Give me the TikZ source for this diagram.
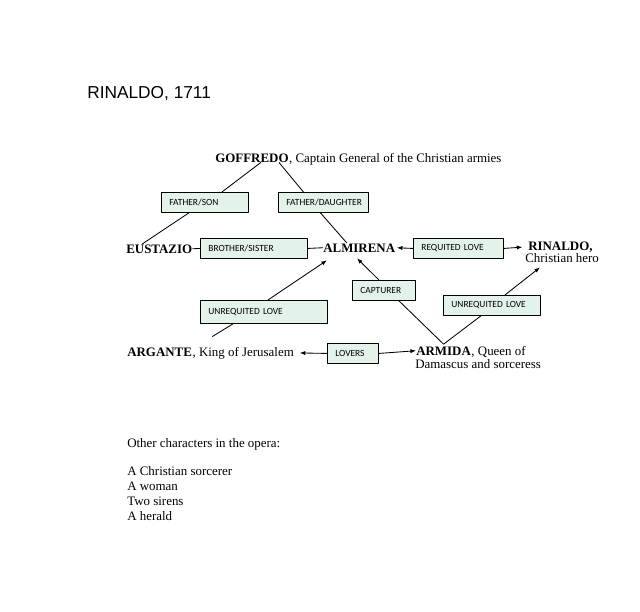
\documentclass[tikz,border=0pt]{standalone}
\usepackage{fontspec}
\setmainfont{Liberation Serif}
\newfontfamily\boxfont{Carlito}
\newfontfamily\titlefont{Liberation Sans}
\usepackage{tikz}
\usetikzlibrary{arrows.meta,calc}

\definecolor{relfill}{RGB}{228,243,233}

\tikzset{
  who/.style={inner sep=0pt,anchor=base west,font=\bfseries\fontsize{9.2}{11}\selectfont},
  what/.style={inner sep=0pt,anchor=base west,font=\fontsize{9.2}{11}\selectfont},
  relbox/.style={draw,line width=0.6pt,fill=relfill,anchor=north west,
    font=\boxfont\fontsize{6.7}{7.5}\selectfont,inner xsep=0.2cm,inner ysep=0pt,
    minimum height=0.5cm,text width=#1,align=left},
  tie/.style={line width=0.6pt},
  tiearrow/.style={line width=0.6pt,-{Latex[length=4pt,width=3pt]}}
}

\begin{document}
\begin{tikzpicture}[x=0.025cm,y=-0.025cm,line join=round]
  \useasboundingbox (0,0) rectangle (640,612);
  % title
  \node[anchor=base west,inner sep=0pt,font=\titlefont\fontsize{12.3}{14}\selectfont] (title) at (87,98) {RINALDO, 1711};
  % characters
  \node[who] (goff) at (215,162) {GOFFREDO};
  \node[what] (goffdesc) at (goff.base east) {, Captain General of the Christian armies};
  \node[who] (eust) at (126,253) {EUSTAZIO};
  \node[who] (alm) at (323,252) {ALMIRENA};
  \node[who] (rin) at (528,250) {RINALDO,};
  \node[what] (chero) at (525,262) {Christian hero};
  \node[who] (arg) at (127,356) {ARGANTE};
  \node[what] (argdesc) at (arg.base east) {, King of Jerusalem};
  \node[who] (arm) at (416,355) {ARMIDA};
  \node[what] (armdesc) at (arm.base east) {, Queen of};
  \node[what] (armdesc2) at (415,368) {Damascus and sorceress};
  \coordinate (armtop) at ($(arm.north)+(0,-2)$);
  % relations
  \node[relbox=1.775cm] (fs) at (161,192) {FATHER/SON};
  \node[relbox=1.85cm] (fd) at (278,192) {FATHER/DAUGHTER};
  \node[relbox=2.275cm] (bs) at (200,238) {BROTHER/SISTER};
  \node[relbox=1.85cm] (rl) at (413,238) {REQUITED LOVE};
  \node[relbox=2.775cm,minimum height=0.575cm] (ul) at (200,300) {UNREQUITED LOVE};
  \node[relbox=1.175cm] (cap) at (352,280) {CAPTURER};
  \node[relbox=2.025cm] (ur) at (443,295) {UNREQUITED LOVE};
  \node[relbox=0.875cm] (lov) at (327,343) {LOVERS};
  % connectors
  \draw[tie] ($(goff.south)+(9,0)$) -- ($(fs.north)+(17,0)$);
  \draw[tie] ($(fs.south)+(-16,0)$) -- ($(eust.north west)+(16,0)$);
  \draw[tie] ($(goff.south)+(27,0)$) -- ($(fd.north)+(-20,0)$);
  \draw[tie] ($(fd.south)+(-3,0)$) -- ($(alm.north west)+(24,0)$);
  \draw[tie] (eust.east) -- (bs.west);
  \draw[tie] (bs.east) -- (alm.west);
  \draw[tiearrow,shorten >=1pt] (rl.west) -- (alm.east);
  \draw[tiearrow,shorten >=4pt] (rl.east) -- (rin.west);
  \draw[tie] ($(ul.south)+(-31,0)$) -- ($(argdesc.north west)+(20,-10)$);
  \draw[tiearrow] ($(ul.north)+(4,0)$) -- ($(alm.south west)+(4,8)$);
  \draw[tiearrow,shorten >=4pt] (lov.west) -- (argdesc.east);
  \draw[tiearrow] (lov.east) -- (arm.west);
  \draw[tie] ($(cap.south)+(15,0)$) -- (armtop);
  \draw[tiearrow] ($(cap.north)+(-5,0)$) -- ($(alm.south west)+(34,6)$);
  \draw[tie] (armtop) -- ($(ur.south)+(-11,0)$);
  \draw[tiearrow] ($(ur.north)+(13,0)$) -- ($(chero.south west)+(15,5)$);
  % other characters
  \node[what] (others) at (127,447) {Other characters in the opera:};
  \node[what] (sorc) at (127,475) {A Christian sorcerer};
  \node[what] (woman) at (127,490) {A woman};
  \node[what] (sirens) at (127,505) {Two sirens};
  \node[what] (herald) at (127,520) {A herald};
\end{tikzpicture}
\end{document}
